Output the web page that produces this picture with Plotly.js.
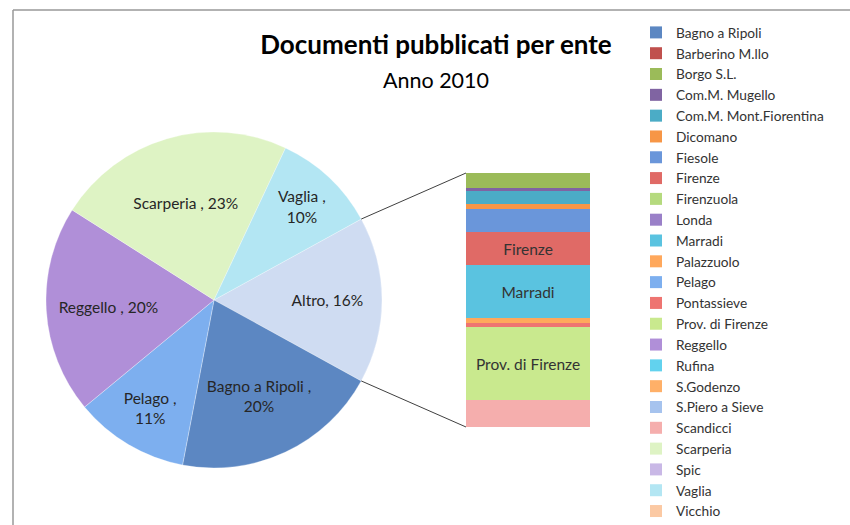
<!DOCTYPE html>
<html><head><meta charset="utf-8">
<script src="https://cdn.plot.ly/plotly-3.0.1.min.js"></script>
<style>html,body{margin:0;padding:0;background:#fff}</style>
</head><body><div id="chart" style="width:850px;height:525px"></div>
<script>
// Main pie slices (percent of documents)
const pieLabels = ['Bagno a Ripoli', 'Pelago', 'Reggello', 'Scarperia', 'Vaglia'];
const pieValues = [20, 11, 20, 23, 10];
const altroLabel = 'Altro';
// Secondary bar ("Altro") components, percent of documents
const barLabels = ['Barberino M.llo', 'Borgo S.L.', 'Com.M. Mugello', 'Com.M. Mont.Fiorentina', 'Dicomano',
  'Fiesole', 'Firenze', 'Firenzuola', 'Londa', 'Marradi', 'Palazzuolo', 'Pontassieve', 'Prov. di Firenze',
  'Rufina', 'S.Godenzo', 'S.Piero a Sieve', 'Scandicci', 'Spic', 'Vicchio'];
const barValues = [0, 0.96, 0.19, 0.83, 0.26, 1.47, 2.11, 0, 0, 3.33, 0.32, 0.26, 4.54, 0, 0, 0, 1.73, 0, 0];
// Legend categories (alphabetical)
const legendLabels = ['Bagno a Ripoli', 'Barberino M.llo', 'Borgo S.L.', 'Com.M. Mugello', 'Com.M. Mont.Fiorentina',
  'Dicomano', 'Fiesole', 'Firenze', 'Firenzuola', 'Londa', 'Marradi', 'Palazzuolo', 'Pelago', 'Pontassieve',
  'Prov. di Firenze', 'Reggello', 'Rufina', 'S.Godenzo', 'S.Piero a Sieve', 'Scandicci', 'Scarperia', 'Spic',
  'Vaglia', 'Vicchio'];
const legendColors = ['#5C87C2', '#C0504D', '#9BBB59', '#8064A2', '#4BACC6', '#F79646', '#6A96DA', '#E06A66',
  '#B5DA7E', '#9A80C8', '#5AC3E0', '#FFA85C', '#7DAFEF', '#EE7471', '#C9E98E', '#B08FD8', '#62D2EE', '#FFB068',
  '#A6C3EE', '#F5AEAD', '#DEF3C4', '#C9B8E6', '#B3E6F3', '#FBC9A3'];
const altroColor = '#CFDCF2';
const pieTemplates = ['%{label}, %{percent:.0%}', '%{label} ,<br>%{percent:.0%}', '%{label} ,<br>%{percent:.0%}',
  '%{label} , %{percent:.0%}', '%{label} , %{percent:.0%}', '%{label} ,<br>%{percent:.0%}'];

const W = 850, H = 525;
const FONT = 'Lato, "Open Sans", sans-serif';
const colorOf = n => legendColors[legendLabels.indexOf(n)];

const altroValue = barValues.reduce((a, b) => a + b, 0);
const allPieLabels = [altroLabel].concat(pieLabels);
const allPieValues = [altroValue].concat(pieValues);
const pieTotal = allPieValues.reduce((a, b) => a + b, 0);
const rotation = 90 - (altroValue / pieTotal) * 180; // Altro centred at 3 o'clock

const pieDom = {x: [46 / W, 382 / W], y: [1 - 468 / H, 1 - 132 / H]};
const barDom = {x: [466 / W, 590 / W], y: [1 - 427 / H, 1 - 173 / H]};

const traces = [{
  type: 'pie', labels: allPieLabels, values: allPieValues, sort: false, direction: 'clockwise',
  rotation: rotation, domain: pieDom, showlegend: false,
  marker: {colors: [altroColor].concat(pieLabels.map(colorOf)), line: {color: 'rgba(255,255,255,0.6)', width: 0.5}},
  texttemplate: pieTemplates, textposition: 'inside', insidetextorientation: 'horizontal',
  textfont: {family: FONT, size: 15.5, color: '#262626'}, hoverinfo: 'label+percent'
}];

// stacked bar: add in reverse so the first legend item sits on top
for (let i = legendLabels.length - 1; i >= 0; i--) {
  const n = legendLabels[i];
  const bi = barLabels.indexOf(n);
  const v = bi >= 0 ? barValues[bi] : null;
  traces.push({
    type: 'bar', name: n, x: [0], y: [v], width: 1, xaxis: 'x', yaxis: 'y',
    marker: {color: legendColors[i], line: {width: 0}},
    text: [v !== null && v > 2 ? n : ''], textposition: 'inside', insidetextanchor: 'middle',
    textangle: 0, constraintext: 'none', textfont: {family: FONT, size: 15.5, color: '#333'},
    hoverinfo: 'name+y'
  });
}

// connector lines from pie edge to bar
const cx = (pieDom.x[0] + pieDom.x[1]) / 2 * W;
const cy = (1 - (pieDom.y[0] + pieDom.y[1]) / 2) * H;
const R = Math.min((pieDom.x[1] - pieDom.x[0]) * W, (pieDom.y[1] - pieDom.y[0]) * H) / 2;
const a1 = rotation * Math.PI / 180;
const a2 = (rotation + 360 * altroValue / pieTotal) * Math.PI / 180;
const p1 = [cx + R * Math.sin(a1), cy - R * Math.cos(a1)];
const p2 = [cx + R * Math.sin(a2), cy - R * Math.cos(a2)];
const lineStyle = {color: '#404040', width: 1};
const shapes = [
  {type: 'line', xref: 'paper', yref: 'paper', x0: p1[0] / W, y0: 1 - p1[1] / H, x1: barDom.x[0], y1: barDom.y[1], line: lineStyle},
  {type: 'line', xref: 'paper', yref: 'paper', x0: p2[0] / W, y0: 1 - p2[1] / H, x1: barDom.x[0], y1: barDom.y[0], line: lineStyle},
  {type: 'line', xref: 'paper', yref: 'paper', x0: 13 / W, y0: 1 - 10 / H, x1: 1, y1: 1 - 10 / H, line: {color: '#999', width: 1.5}},
  {type: 'line', xref: 'paper', yref: 'paper', x0: 13 / W, y0: 1 - 10 / H, x1: 13 / W, y1: 0, line: {color: '#999', width: 1.5}}
];

const layout = {
  width: W, height: H, margin: {l: 0, r: 0, t: 0, b: 0, autoexpand: false},
  paper_bgcolor: '#fff', plot_bgcolor: 'rgba(0,0,0,0)',
  font: {family: FONT, color: '#262626'},
  title: {text: '<b>Documenti pubblicati per ente</b><br><span style="font-size:21.5px">Anno 2010</span>',
    x: 436 / W, xanchor: 'center', xref: 'paper', y: 1 - 54 / H, yanchor: 'top', yref: 'container',
    font: {family: FONT, size: 26, color: '#000'}},
  barmode: 'stack', bargap: 0,
  xaxis: {domain: barDom.x, range: [-0.5, 0.5], visible: false, fixedrange: true},
  yaxis: {domain: barDom.y, range: [0, altroValue], visible: false, fixedrange: true},
  showlegend: true,
  legend: {traceorder: 'reversed', xref: 'container', yref: 'container', x: 636 / W, y: 1 - 17 / H,
    xanchor: 'left', yanchor: 'top', maxheight: 1, font: {family: FONT, size: 13.7, color: '#333'},
    bgcolor: 'rgba(0,0,0,0)'},
  shapes: shapes
};

Plotly.newPlot('chart', traces, layout, {displayModeBar: false, staticPlot: true});
</script></body></html>
